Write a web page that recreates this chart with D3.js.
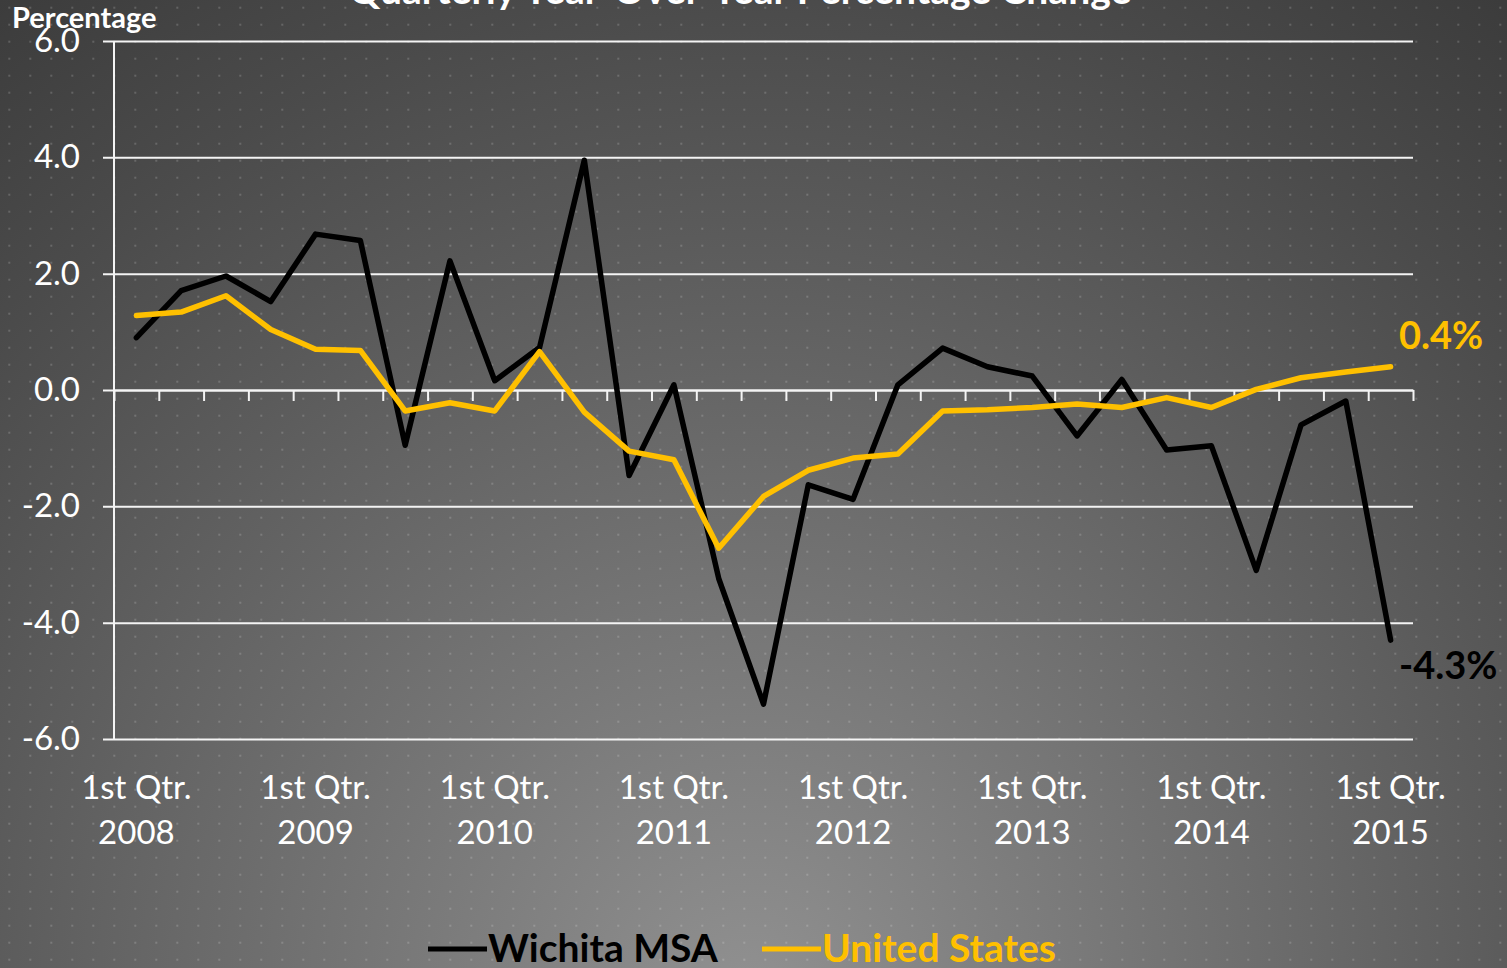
<!DOCTYPE html>
<html>
<head>
<meta charset="utf-8">
<script src="https://cdn.jsdelivr.net/npm/d3@7"></script>
<style>
  html, body { margin: 0; padding: 0; overflow: hidden; }
  svg { display: block; }
</style>
</head>
<body>
<div id="chart"></div>
<script>
"use strict"

// quarters from 1st Qtr. 2008 to 1st Qtr. 2015
const quarters = [
  "2008 Q1", "2008 Q2", "2008 Q3", "2008 Q4",
  "2009 Q1", "2009 Q2", "2009 Q3", "2009 Q4",
  "2010 Q1", "2010 Q2", "2010 Q3", "2010 Q4",
  "2011 Q1", "2011 Q2", "2011 Q3", "2011 Q4",
  "2012 Q1", "2012 Q2", "2012 Q3", "2012 Q4",
  "2013 Q1", "2013 Q2", "2013 Q3", "2013 Q4",
  "2014 Q1", "2014 Q2", "2014 Q3", "2014 Q4",
  "2015 Q1"
];

// year over year percentage change
const wichita = [0.90, 1.71, 1.96, 1.52, 2.68, 2.57, -0.95, 2.22, 0.16, 0.73,
  3.95, -1.47, 0.09, -3.24, -5.40, -1.63, -1.88, 0.09, 0.72, 0.40,
  0.24, -0.79, 0.18, -1.03, -0.96, -3.10, -0.60, -0.19, -4.30];
const unitedStates = [1.28, 1.34, 1.62, 1.04, 0.70, 0.68, -0.36, -0.22, -0.36, 0.66,
  -0.38, -1.05, -1.20, -2.72, -1.83, -1.38, -1.17, -1.10, -0.36, -0.34,
  -0.30, -0.24, -0.30, -0.13, -0.30, 0.01, 0.21, 0.31, 0.40];

const yTicks = [-6, -4, -2, 0, 2, 4, 6];
const xLabelQuarters = ["2008 Q1", "2009 Q1", "2010 Q1", "2011 Q1", "2012 Q1", "2013 Q1", "2014 Q1", "2015 Q1"];

const seriesNames = ["Wichita MSA", "United States"];
const endLabels = ["-4.3%", "0.4%"];

const width = 1507;
const height = 968;
const plot = { left: 114, right: 1413, top: 41, bottom: 739 };
const FONT = "Lato, 'Open Sans', sans-serif";
const YELLOW = "#FFC000";

window.addEventListener("load", drawChart);

function drawChart() {
  let svg = d3.select("#chart")
    .append("svg")
      .attr("width", width)
      .attr("height", height);

  let defs = svg.append("defs");
  let grad = defs.append("radialGradient")
    .attr("id", "bg")
    .attr("gradientUnits", "userSpaceOnUse")
    .attr("cx", 750).attr("cy", 1000).attr("r", 1250);
  grad.append("stop").attr("offset", 0).attr("stop-color", "#919191");
  grad.append("stop").attr("offset", 0.6).attr("stop-color", "#5c5c5c");
  grad.append("stop").attr("offset", 0.8).attr("stop-color", "#4b4b4b");
  grad.append("stop").attr("offset", 1).attr("stop-color", "#3c3c3c");

  let pattern = defs.append("pattern")
    .attr("id", "dots")
    .attr("patternUnits", "userSpaceOnUse")
    .attr("width", 21).attr("height", 17);
  pattern.append("rect")
    .attr("x", 8.3).attr("y", 6.7).attr("width", 2).attr("height", 2)
    .attr("fill", "#ffffff").attr("fill-opacity", 0.17);

  svg.append("rect").attr("width", width).attr("height", height).attr("fill", "url(#bg)");
  svg.append("rect").attr("width", width).attr("height", height).attr("fill", "url(#dots)");

  let x = d3.scaleBand().domain(quarters).range([plot.left, plot.right]);
  let xc = (q) => x(q) + x.bandwidth() / 2;
  let y = d3.scaleLinear().domain([-6, 6]).range([plot.bottom, plot.top]);

  // horizontal gridlines and y labels
  let yAxis = svg.append("g")
    .attr("transform", `translate(103,0)`)
    .call(d3.axisLeft(y)
      .tickValues(yTicks)
      .tickSizeInner(-(plot.right - 103))
      .tickSizeOuter(0)
      .tickPadding(23)
      .tickFormat(d3.format(".1f")));
  yAxis.select(".domain").remove();
  yAxis.selectAll("line").attr("stroke", "#f4f4f4").attr("stroke-width", 2);
  yAxis.selectAll("text")
    .attr("fill", "#ffffff")
    .style("font-family", FONT)
    .style("font-size", "33px")
    .text((d) => d3.format(".1f")(d).replace("−", "-"));

  // vertical axis line
  svg.append("line")
    .attr("x1", plot.left).attr("x2", plot.left)
    .attr("y1", y(6)).attr("y2", y(-6))
    .attr("stroke", "#f4f4f4").attr("stroke-width", 2);

  // category axis along zero with ticks between quarters
  let tickScale = d3.scaleLinear().domain([0, quarters.length]).range([plot.left, plot.right]);
  let xAxis = svg.append("g")
    .attr("transform", `translate(0,${y(0)})`)
    .call(d3.axisBottom(tickScale)
      .tickValues(d3.range(quarters.length + 1))
      .tickSize(11)
      .tickSizeOuter(0)
      .tickFormat(""));
  xAxis.select(".domain").attr("stroke", "#f4f4f4").attr("stroke-width", 2);
  xAxis.selectAll("line").attr("stroke", "#f4f4f4").attr("stroke-width", 2);

  // x labels below the plot
  let xLabels = svg.append("g")
    .selectAll("text")
    .data(xLabelQuarters)
    .enter()
    .append("text")
      .attr("x", (d) => xc(d))
      .attr("y", 799)
      .attr("text-anchor", "middle")
      .attr("fill", "#ffffff")
      .style("font-family", FONT)
      .style("font-size", "33px");
  xLabels.append("tspan").attr("x", (d) => xc(d)).text("1st Qtr.");
  xLabels.append("tspan").attr("x", (d) => xc(d)).attr("dy", 45).text((d) => d.split(" ")[0]);

  // lines
  let line = d3.line()
    .x((d, i) => xc(quarters[i]))
    .y((d) => y(d));

  let series = [
    { name: seriesNames[0], values: wichita, color: "#000000", label: endLabels[0] },
    { name: seriesNames[1], values: unitedStates, color: YELLOW, label: endLabels[1] }
  ];

  svg.append("g")
    .selectAll("path")
    .data(series)
    .enter()
    .append("path")
      .attr("d", (d) => line(d.values))
      .attr("fill", "none")
      .attr("stroke", (d) => d.color)
      .attr("stroke-width", 5.5)
      .attr("stroke-linejoin", "round")
      .attr("stroke-linecap", "round");

  // end labels
  svg.append("text")
    .attr("x", 1399)
    .attr("y", y(unitedStates[unitedStates.length - 1]) - 18)
    .attr("fill", YELLOW)
    .style("font-family", FONT)
    .style("font-weight", "bold")
    .style("font-size", "38px")
    .text(series[1].label);
  svg.append("text")
    .attr("x", 1399)
    .attr("y", y(wichita[wichita.length - 1]) + 39)
    .attr("fill", "#000000")
    .style("font-family", FONT)
    .style("font-weight", "bold")
    .style("font-size", "38px")
    .text(series[0].label);

  // titles
  svg.append("text")
    .attr("x", 740).attr("y", 4)
    .attr("text-anchor", "middle")
    .attr("fill", "#ffffff")
    .style("font-family", FONT)
    .style("font-weight", "bold")
    .style("font-size", "39px")
    .text("Quarterly Year-Over-Year Percentage Change");
  svg.append("text")
    .attr("x", 12).attr("y", 28)
    .attr("fill", "#ffffff")
    .style("font-family", FONT)
    .style("font-weight", "bold")
    .style("font-size", "29px")
    .text("Percentage");

  // legend
  let legendPos = [428, 762];
  let legend = svg.append("g")
    .selectAll("g")
    .data(series)
    .enter()
    .append("g")
      .attr("transform", (d, i) => `translate(${legendPos[i]},949)`);
  legend.append("line")
    .attr("x1", 0).attr("x2", 59)
    .attr("stroke", (d) => d.color)
    .attr("stroke-width", 5);
  legend.append("text")
    .attr("x", 60).attr("y", 13)
    .attr("fill", (d) => d.color)
    .style("font-family", FONT)
    .style("font-weight", "bold")
    .style("font-size", "39px")
    .text((d) => d.name);
}
</script>
</body>
</html>
